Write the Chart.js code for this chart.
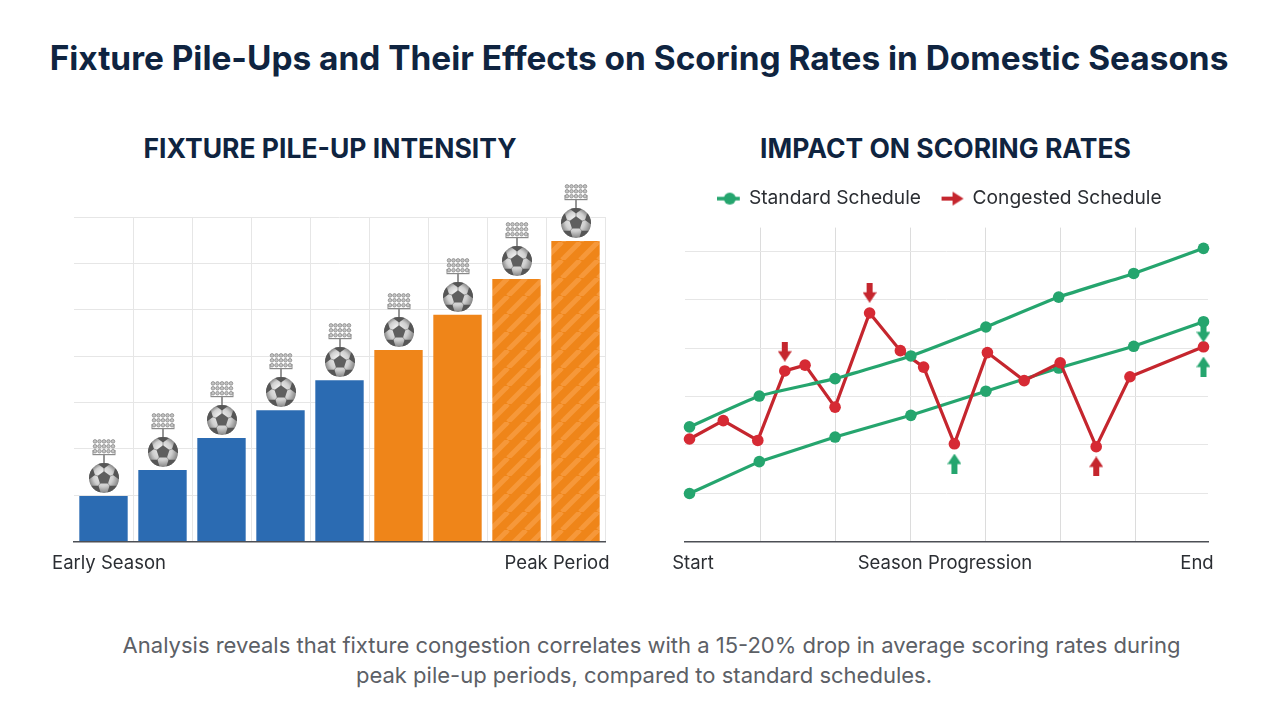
<!DOCTYPE html>
<html lang="en">
<head>
<meta charset="utf-8">
<title>Fixture Pile-Ups</title>
<script src="https://cdn.jsdelivr.net/npm/chart.js@4"></script>
<style>
    html, body { margin: 0; padding: 0; background: #fff; }
    body { width: 1280px; height: 720px; position: relative; overflow: hidden; font-family: Inter, sans-serif; }
    canvas { position: absolute; display: block; }
    .txt { position: absolute; transform: translate(-50%, -50%); white-space: nowrap; line-height: 1; }
    .titulo { font-size: 33.4px; font-weight: 700; color: #0f2440; }
    .subtitulo { font-size: 26.5px; font-weight: 700; color: #0f2440; }
    .eixo { font-size: 18.5px; color: #2b2e33; }
    .nota { font-size: 22px; color: #5c6066; }
</style>
</head>
<body>
<div class="txt titulo" style="left:639px; top:59px">Fixture Pile-Ups and Their Effects on Scoring Rates in Domestic Seasons</div>
<div class="txt subtitulo" style="left:330px; top:148px">FIXTURE PILE-UP INTENSITY</div>
<div class="txt subtitulo" style="left:945.5px; top:148px">IMPACT ON SCORING RATES</div>

<canvas id="grafico-barras" width="600" height="400" style="left:40px; top:170px"></canvas>
<canvas id="grafico-linhas" width="600" height="402" style="left:640px; top:168px"></canvas>

<div class="txt eixo" style="left:109px; top:562px">Early Season</div>
<div class="txt eixo" style="left:557px; top:562px">Peak Period</div>
<div class="txt eixo" style="left:693px; top:562px">Start</div>
<div class="txt eixo" style="left:945px; top:562px">Season Progression</div>
<div class="txt eixo" style="left:1197px; top:562px">End</div>

<div class="txt nota" style="left:651.5px; top:645px">Analysis reveals that fixture congestion correlates with a 15-20% drop in average scoring rates during</div>
<div class="txt nota" style="left:644px; top:675px">peak pile-up periods, compared to standard schedules.</div>

<script>
// ── Dados ──
const semanas     = ["1", "2", "3", "4", "5", "6", "7", "8", "9"];
const intensidade = [0.98, 1.54, 2.23, 2.83, 3.48, 4.13, 4.89, 5.66, 6.48];

const progressoPadrao = [0.06, 0.99, 2.0, 3.01, 4.01, 4.98, 5.98, 6.91];
const padraoSuperior  = [2.37, 3.01, 3.37, 3.84, 4.44, 5.06, 5.55, 6.07];
const padraoInferior  = [0.99, 1.65, 2.16, 2.61, 3.11, 3.59, 4.04, 4.55];

const progressoCongestionado = [0.06, 0.51, 0.97, 1.33, 1.6, 2.0, 2.46, 2.87, 3.18, 3.59, 4.03, 4.52, 5.0, 5.48, 5.93, 6.91];
const congestionado          = [2.12, 2.5, 2.09, 3.53, 3.65, 2.78, 4.73, 3.95, 3.61, 2.02, 3.91, 3.33, 3.7, 1.96, 3.41, 4.03];

// setas de destaque sobre as linhas
const setaVermelhaBaixoX = [1.33, 2.46];
const setaVermelhaBaixoY = [3.93, 5.15];
const setaVerdeCimaX     = [3.59, 6.91];
const setaVerdeCimaY     = [1.61, 3.62];
const setaVermelhaCimaX  = [5.48];
const setaVermelhaCimaY  = [1.55];
const setaVerdeBaixoX    = [6.91];
const setaVerdeBaixoY    = [4.33];

const legendaLinhas = ["Standard Schedule", "Congested Schedule"];

const AZUL = "#2b6bb2";
const LARANJA = "#ef8519";
const LARANJA_CLARO = "#f6983a";
const VERDE = "#25a56e";
const VERMELHO = "#c5262e";
const VERMELHO_PONTO = "#d62a34";
const GRADE = "#e6e6e6";

function novoCanvas(w, h) {
    const c = document.createElement("canvas");
    c.width = w;
    c.height = h;
    return c;
}

function pares(xs, ys) {
    return xs.map((x, i) => ({ x, y: ys[i] }));
}

// ── Ícones ──
function listras() {
    const p = 18;
    const c = novoCanvas(p, p);
    const g = c.getContext("2d");
    g.fillStyle = LARANJA;
    g.fillRect(0, 0, p, p);
    g.strokeStyle = LARANJA_CLARO;
    g.lineWidth = 5;
    [0, p, p * 2].forEach(d => {
        g.beginPath();
        g.moveTo(d - p, p);
        g.lineTo(d, 0);
        g.stroke();
    });
    return g.createPattern(c, "repeat");
}

function pentagono(g, cx, cy, r, rot) {
    g.beginPath();
    for (let i = 0; i < 5; i++) {
        const a = rot + i * Math.PI * 2 / 5;
        const x = cx + Math.cos(a) * r;
        const y = cy + Math.sin(a) * r;
        if (i === 0) g.moveTo(x, y); else g.lineTo(x, y);
    }
    g.closePath();
}

function desenharBola() {
    const c = novoCanvas(32, 32);
    const g = c.getContext("2d");
    const m = 16, r = 15;
    const grad = g.createRadialGradient(m - 2, m - 4, 2, m, m, r);
    grad.addColorStop(0, "#ececec");
    grad.addColorStop(0.6, "#cfcfcf");
    grad.addColorStop(1, "#858585");
    g.fillStyle = grad;
    g.beginPath();
    g.arc(m, m, r, 0, Math.PI * 2);
    g.fill();

    g.save();
    g.clip();
    g.strokeStyle = "#8c8c8c";
    g.lineWidth = 0.8;
    const topo = -Math.PI / 2;
    for (let i = 0; i < 5; i++) {
        const a = topo + i * Math.PI * 2 / 5;
        g.beginPath();
        g.moveTo(m + Math.cos(a) * 6, m + Math.sin(a) * 6);
        g.lineTo(m + Math.cos(a) * 12, m + Math.sin(a) * 12);
        g.stroke();
        g.fillStyle = "#565656";
        pentagono(g, m + Math.cos(a) * 15.5, m + Math.sin(a) * 15.5, 6, a + Math.PI);
        g.fill();
    }
    g.restore();

    g.fillStyle = "#5f5f5f";
    pentagono(g, m, m, 6.8, topo);
    g.fill();
    return c;
}

function desenharRefletor() {
    const c = novoCanvas(24, 25);
    const g = c.getContext("2d");
    g.fillStyle = "#7d7d7d";
    g.fillRect(11.2, 16, 1.6, 9);
    g.fillStyle = "#8a8a8a";
    g.fillRect(0.5, 15, 23, 1.2);
    g.fillRect(0.5, 11, 1, 4);
    g.fillRect(22.5, 11, 1, 4);
    for (let l = 0; l < 3; l++) {
        for (let k = 0; k < 5; k++) {
            g.beginPath();
            g.arc(3 + k * 4.5, 2.4 + l * 4.9, 1.8, 0, Math.PI * 2);
            g.fillStyle = "#c4c4c4";
            g.fill();
            g.strokeStyle = "#808080";
            g.lineWidth = 0.7;
            g.stroke();
        }
    }
    return c;
}

function desenharSeta(cor, paraCima) {
    const c = novoCanvas(14, 20);
    const g = c.getContext("2d");
    if (paraCima) { g.translate(0, 20); g.scale(1, -1); }
    g.fillStyle = cor;
    g.fillRect(4, 0, 6, 11);
    g.beginPath();
    g.moveTo(0, 9.5);
    g.lineTo(14, 9.5);
    g.lineTo(7, 20);
    g.closePath();
    g.fill();
    return c;
}

function marcadorPadrao() {
    const c = novoCanvas(24, 14);
    const g = c.getContext("2d");
    g.fillStyle = VERDE;
    g.fillRect(0, 5.2, 23, 3.6);
    g.beginPath();
    g.arc(13, 7, 6, 0, Math.PI * 2);
    g.fill();
    return c;
}

function marcadorCongestionado() {
    const c = novoCanvas(24, 16);
    const g = c.getContext("2d");
    g.fillStyle = VERMELHO;
    g.fillRect(1, 6, 14, 4);
    g.beginPath();
    g.moveTo(12, 1);
    g.lineTo(23, 8);
    g.lineTo(12, 15);
    g.closePath();
    g.fill();
    return c;
}

// ── Gráfico de barras ──
const bola = desenharBola();
const refletor = desenharRefletor();
const padraoListrado = listras();

// coloca bola e refletor sobre cada barra
const pluginIcones = {
    id: "icones",
    afterDatasetsDraw(chart) {
        const ctx = chart.ctx;
        chart.getDatasetMeta(0).data.forEach(barra => {
            const x = Math.round(barra.x);
            const y = Math.round(barra.y);
            ctx.drawImage(refletor, x - 12, y - 57);
            ctx.drawImage(bola, x - 16, y - 34);
        });
    }
};

new Chart(document.getElementById("grafico-barras"), {
    type: "bar",
    data: {
        labels: semanas,
        datasets: [{
            data: intensidade,
            backgroundColor: intensidade.map((_, i) => i < 5 ? AZUL : i < 7 ? LARANJA : padraoListrado),
            barPercentage: 0.82,
            categoryPercentage: 1,
        }]
    },
    options: {
        responsive: false,
        animation: false,
        layout: { padding: { left: 34, right: 35, top: 47, bottom: 28.5 } },
        plugins: { legend: { display: false }, tooltip: { enabled: false } },
        scales: {
            x: {
                grid: {
                    drawTicks: false,
                    color: ctx => (ctx.index === 0 || ctx.index === semanas.length) ? "transparent" : GRADE,
                },
                border: { color: "#4c4f55", width: 1.5 },
                ticks: { display: false },
            },
            y: {
                min: 0,
                max: 7,
                grid: { drawTicks: false, color: GRADE },
                border: { display: false },
                ticks: { display: false, stepSize: 1 },
            }
        }
    },
    plugins: [pluginIcones]
});

// ── Gráfico de linhas ──
function serieSeta(xs, ys, icone) {
    return {
        data: pares(xs, ys),
        showLine: false,
        pointStyle: icone,
        clip: false,
    };
}

function serieLinha(xs, ys, cor, corPonto, tensao) {
    return {
        data: pares(xs, ys),
        borderColor: cor,
        borderWidth: 3.2,
        backgroundColor: corPonto,
        pointBackgroundColor: corPonto,
        pointBorderWidth: 0,
        pointRadius: 5.8,
        tension: tensao,
        clip: false,
    };
}

const marcadores = [marcadorPadrao(), marcadorCongestionado()];

// espaço extra entre a legenda e a área do gráfico
const pluginFolgaLegenda = {
    id: "folgaLegenda",
    beforeInit(chart) {
        const fitOriginal = chart.legend.fit;
        chart.legend.fit = function () {
            fitOriginal.call(this);
            this.height += 9.4;
        };
    }
};

new Chart(document.getElementById("grafico-linhas"), {
    type: "line",
    data: {
        datasets: [
            serieSeta(setaVermelhaBaixoX, setaVermelhaBaixoY, desenharSeta(VERMELHO, false)),
            serieSeta(setaVermelhaCimaX, setaVermelhaCimaY, desenharSeta(VERMELHO, true)),
            serieSeta(setaVerdeCimaX, setaVerdeCimaY, desenharSeta(VERDE, true)),
            serieSeta(setaVerdeBaixoX, setaVerdeBaixoY, desenharSeta(VERDE, false)),
            serieLinha(progressoPadrao, padraoSuperior, VERDE, VERDE, 0.12),
            serieLinha(progressoCongestionado, congestionado, VERMELHO, VERMELHO_PONTO, 0),
            serieLinha(progressoPadrao, padraoInferior, VERDE, VERDE, 0),
        ]
    },
    options: {
        responsive: false,
        animation: false,
        layout: { padding: { left: 32, right: 32, top: 0, bottom: 28.7 } },
        plugins: {
            tooltip: { enabled: false },
            legend: {
                position: "top",
                labels: {
                    font: { family: "Inter", size: 19.2 },
                    color: "#2b2e33",
                    padding: 21,
                    usePointStyle: true,
                    pointStyleWidth: 21,
                    generateLabels: () => legendaLinhas.map((texto, i) => ({
                        text: texto,
                        pointStyle: marcadores[i],
                        fontColor: "#2b2e33",
                        lineWidth: 0,
                        datasetIndex: i,
                    })),
                }
            }
        },
        scales: {
            x: {
                type: "linear",
                min: 0,
                max: 6.97,
                grid: {
                    drawTicks: false,
                    color: ctx => ctx.tick.value === 0 ? "transparent" : "#dcdcdc",
                },
                border: { color: "#4c4f55", width: 1.5 },
                ticks: { display: false, stepSize: 1, includeBounds: false },
            },
            y: {
                min: 0,
                max: 6.5,
                afterFit: scale => { scale.width = 13; },
                grid: { drawTicks: false, color: GRADE },
                border: { display: false },
                ticks: { display: false, stepSize: 1, includeBounds: false },
            }
        }
    },
    plugins: [pluginFolgaLegenda]
});
</script>
</body>
</html>
